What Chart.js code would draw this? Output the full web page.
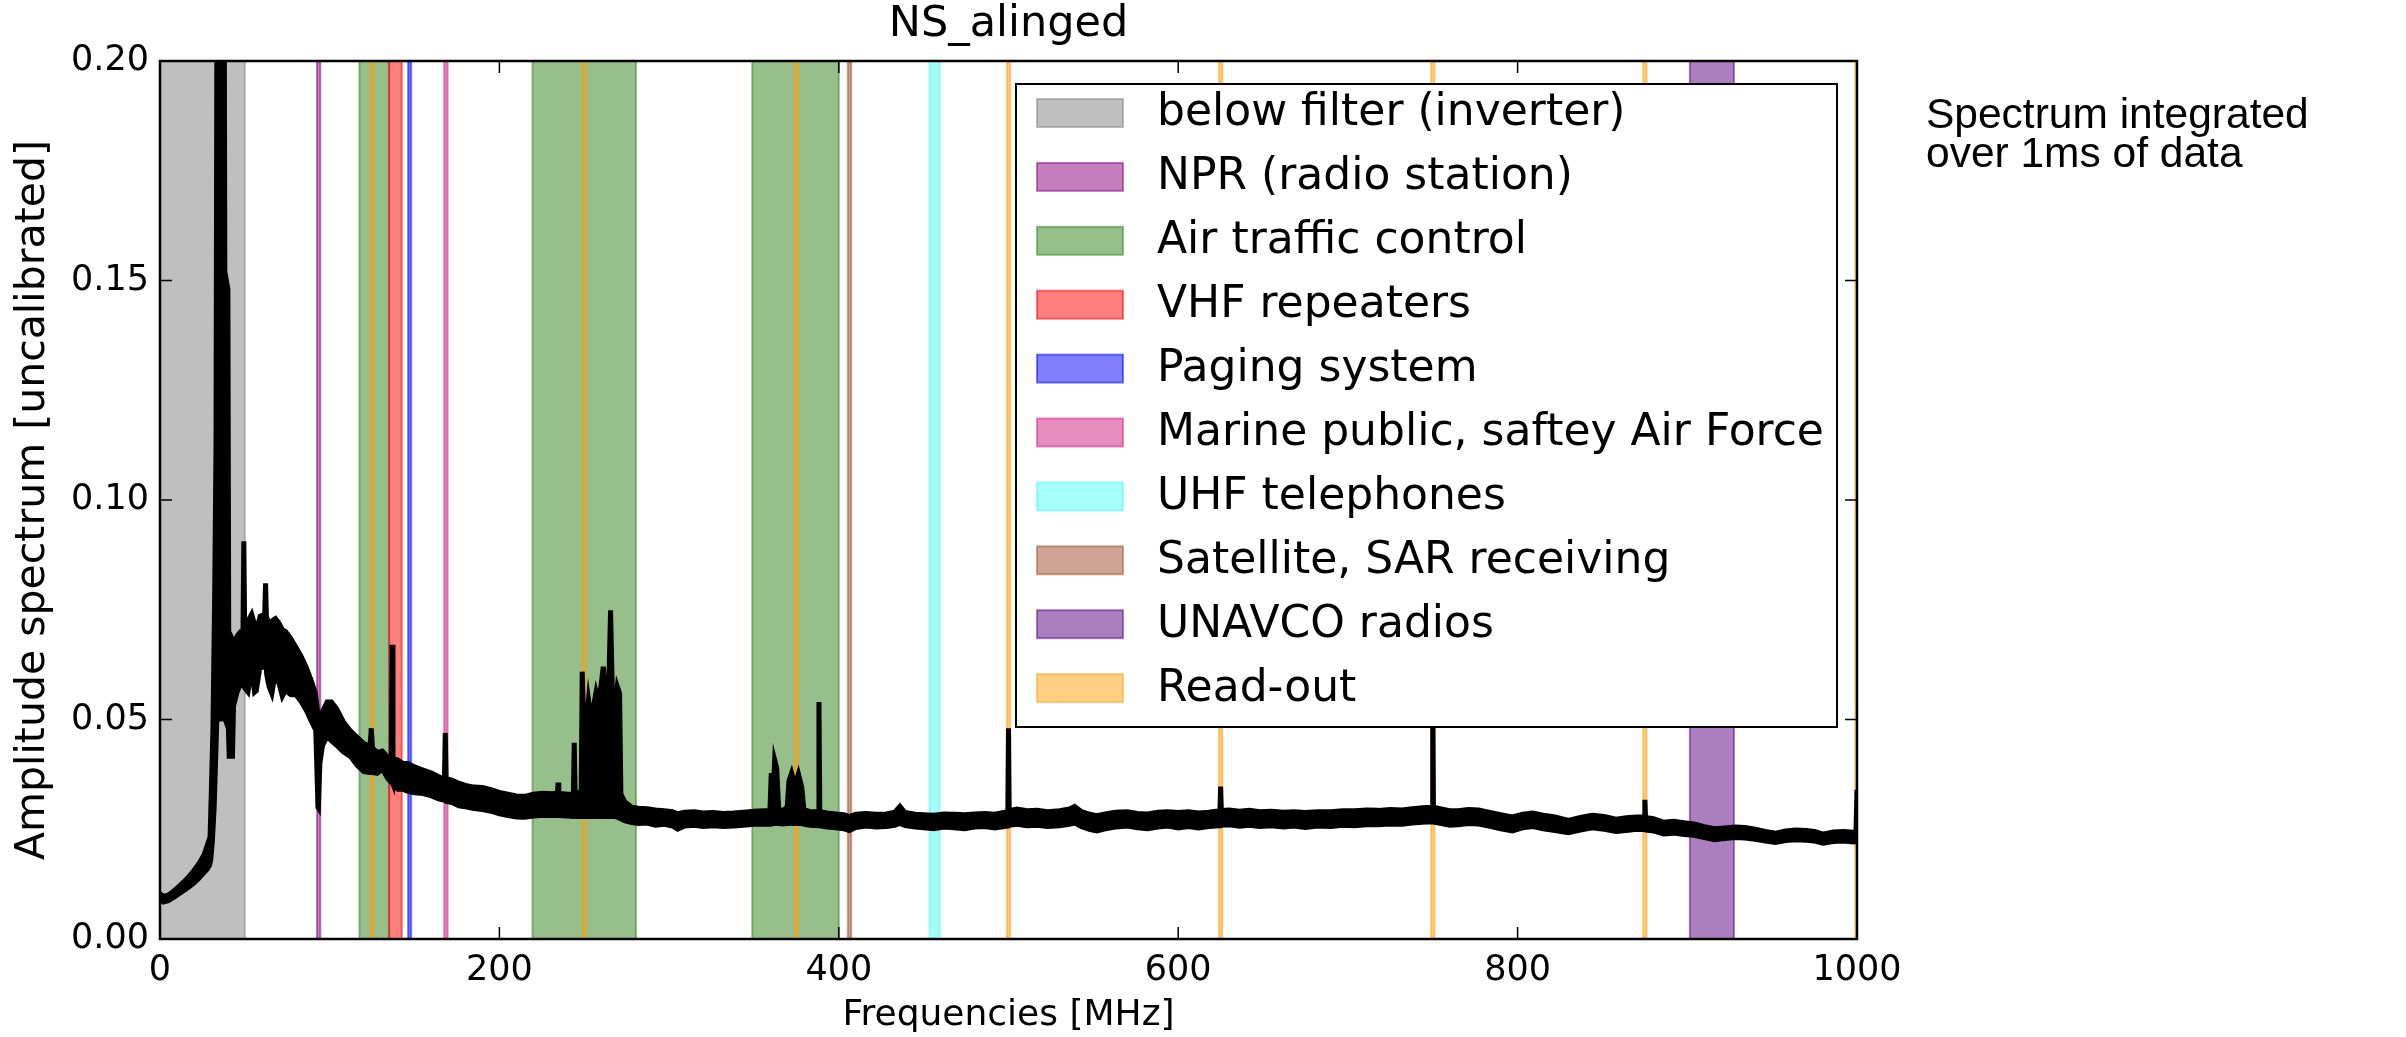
<!DOCTYPE html>
<html lang="en">
<head>
    <meta charset="UTF-8">
    <title>NS_alinged spectrum</title>
    <script src="https://cdn.jsdelivr.net/npm/chart.js"></script>
    <style>
        body { margin: 0; background: #fff; }
        #wrap { position: relative; width: 2406px; height: 1037px; }
        #note {
            position: absolute; left: 1926px; top: 94px;
            font-family: "Liberation Sans", Arial, sans-serif;
            font-size: 42.5px; line-height: 39px; color: #000;
        }
    </style>
</head>
<body>
<div id="wrap">
    <canvas id="spectrum" width="2406" height="1037"></canvas>
    <div id="note">Spectrum integrated<br>over 1ms of data</div>
</div>

<script>
// Frequency grid (MHz) with the lower / upper edge of the noisy amplitude trace
const freqMHz = [
    0, 2, 5, 8, 11, 14, 17, 20, 23, 26, 28, 29.5, 30.2, 31.2, 32.2, 33.0, 33.8, 37.6, 38.2, 40.0,
    40.5, 43.0, 43.6, 45.5, 47.5, 48.9, 49.4, 49.9, 52, 54, 55.5, 57, 59, 61.7, 62.2, 62.7,
    64, 66, 68, 70, 72, 74, 77, 80, 83, 86, 89, 91.5, 92.8, 93.6, 94.5, 96, 98.5, 101,
    104, 108, 112, 116, 120, 123.8, 124.5, 125.2, 128, 131, 134, 136.3, 136.8, 137.3, 140, 143,
    146, 150, 155, 160, 164, 167.6, 168.1, 168.6, 172, 176, 180, 185, 190, 195, 200, 205,
    210, 215, 220, 226, 231, 234.2, 234.6, 235.0, 240, 243.6, 244.1, 244.6, 248.2, 248.8, 249.6, 251,
    252.5, 254, 255.5, 257, 258.5, 260, 261.2, 262.5, 264.5, 265.5, 266.5, 268, 269.5, 270.8, 271.6, 274,
    278, 282, 287, 292, 297, 302, 305, 309, 315, 320, 326, 332, 338, 344, 350, 356,
    359.4, 360.2, 361.2, 362.2, 363.4, 364.6, 367, 369.6, 370.6, 372.2, 374.2, 376.2, 378.2, 379.4, 383, 387.9,
    388.3, 388.8, 393, 398, 403, 406.3, 410, 416, 422, 428, 433, 436, 439, 445, 450, 456,
    462, 468, 474, 480, 486, 492, 499.6, 500, 500.4, 505, 511, 517, 523, 530, 536, 539,
    543, 548, 552, 557, 563, 570, 576, 582, 588, 594, 600, 606, 612, 618, 624.6, 625,
    625.4, 630, 636, 642, 648, 655, 662, 668, 675, 682, 690, 697, 704, 711, 718, 725,
    732, 738, 744, 749.6, 750, 750.4, 755, 760, 765, 771, 777, 783, 790, 797, 803, 809,
    815, 822, 830, 837, 844, 851, 858, 864, 870, 874.6, 875, 875.4, 880, 886, 892, 898,
    904, 910, 916, 922, 928, 934, 940, 946, 952, 958, 964, 970, 975, 980, 986, 992,
    998, 999.4, 1000
];
const ampLow = [
    0.0088, 0.0083, 0.0086, 0.0093, 0.0101, 0.0109, 0.0117, 0.0126, 0.0137, 0.0150, 0.0158, 0.0168, 0.0180, 0.0225, 0.0300, 0.0400, 0.0500, 0.0500, 0.0500, 0.0480,
    0.0415, 0.0415, 0.0530, 0.0560, 0.0580, 0.0575, 0.0575, 0.0570, 0.0560, 0.0610, 0.0560, 0.0565, 0.0615, 0.0620, 0.0620, 0.0600,
    0.0575, 0.0555, 0.0600, 0.0580, 0.0550, 0.0565, 0.0555, 0.0555, 0.0540, 0.0520, 0.0495, 0.0475, 0.0300, 0.0295, 0.0400, 0.0440, 0.0460, 0.0450,
    0.0440, 0.0425, 0.0415, 0.0395, 0.0380, 0.0378, 0.0378, 0.0378, 0.0376, 0.0385, 0.0365, 0.0355, 0.0355, 0.0350, 0.0340, 0.0340,
    0.0335, 0.0332, 0.0330, 0.0325, 0.0318, 0.0315, 0.0315, 0.0312, 0.0310, 0.0302, 0.0300, 0.0296, 0.0294, 0.0290, 0.0284, 0.0280,
    0.0277, 0.0276, 0.0279, 0.0281, 0.0280, 0.0280, 0.0280, 0.0280, 0.0279, 0.0278, 0.0278, 0.0278, 0.0278, 0.0278, 0.0278, 0.0278,
    0.0278, 0.0278, 0.0278, 0.0278, 0.0278, 0.0278, 0.0278, 0.0278, 0.0278, 0.0278, 0.0278, 0.0278, 0.0276, 0.0274, 0.0272, 0.0268,
    0.0264, 0.0262, 0.0263, 0.0258, 0.0260, 0.0256, 0.0249, 0.0256, 0.0258, 0.0255, 0.0257, 0.0255, 0.0256, 0.0258, 0.0260, 0.0261,
    0.0260, 0.0260, 0.0262, 0.0262, 0.0262, 0.0262, 0.0261, 0.0262, 0.0262, 0.0262, 0.0262, 0.0262, 0.0262, 0.0260, 0.0258, 0.0257,
    0.0257, 0.0257, 0.0254, 0.0252, 0.0250, 0.0246, 0.0253, 0.0256, 0.0254, 0.0255, 0.0258, 0.0262, 0.0257, 0.0254, 0.0252, 0.0250,
    0.0254, 0.0252, 0.0250, 0.0254, 0.0255, 0.0252, 0.0256, 0.0256, 0.0258, 0.0260, 0.0257, 0.0258, 0.0255, 0.0257, 0.0260, 0.0263,
    0.0255, 0.0248, 0.0245, 0.0250, 0.0254, 0.0256, 0.0252, 0.0250, 0.0254, 0.0256, 0.0252, 0.0255, 0.0252, 0.0255, 0.0257, 0.0257,
    0.0258, 0.0259, 0.0256, 0.0258, 0.0255, 0.0257, 0.0254, 0.0256, 0.0253, 0.0256, 0.0255, 0.0258, 0.0257, 0.0259, 0.0259, 0.0261,
    0.0260, 0.0263, 0.0265, 0.0266, 0.0266, 0.0265, 0.0262, 0.0258, 0.0259, 0.0262, 0.0261, 0.0256, 0.0250, 0.0245, 0.0252, 0.0255,
    0.0250, 0.0246, 0.0241, 0.0247, 0.0252, 0.0249, 0.0244, 0.0246, 0.0249, 0.0248, 0.0248, 0.0247, 0.0245, 0.0238, 0.0240, 0.0237,
    0.0235, 0.0230, 0.0225, 0.0228, 0.0230, 0.0229, 0.0226, 0.0222, 0.0219, 0.0223, 0.0225, 0.0224, 0.0222, 0.0217, 0.0221, 0.0222,
    0.0220, 0.0221, 0.0221
];
const ampHigh = [
    0.0103, 0.0097, 0.0100, 0.0109, 0.0119, 0.0130, 0.0142, 0.0156, 0.0172, 0.0192, 0.0215, 0.0232, 0.0330, 0.0480, 0.0780, 0.1120, 0.2600, 0.2600, 0.1520, 0.1480,
    0.0700, 0.0680, 0.0670, 0.0690, 0.0700, 0.0700, 0.0906, 0.0705, 0.0725, 0.0740, 0.0720, 0.0705, 0.0735, 0.0740, 0.0810, 0.0735,
    0.0720, 0.0725, 0.0730, 0.0720, 0.0705, 0.0700, 0.0685, 0.0665, 0.0645, 0.0620, 0.0590, 0.0560, 0.0520, 0.0505, 0.0500, 0.0520, 0.0540, 0.0540,
    0.0525, 0.0495, 0.0475, 0.0460, 0.0445, 0.0440, 0.0480, 0.0435, 0.0425, 0.0428, 0.0415, 0.0410, 0.0670, 0.0410, 0.0408, 0.0400,
    0.0400, 0.0392, 0.0385, 0.0378, 0.0370, 0.0365, 0.0469, 0.0365, 0.0362, 0.0355, 0.0350, 0.0346, 0.0345, 0.0340, 0.0334, 0.0330,
    0.0326, 0.0325, 0.0330, 0.0332, 0.0331, 0.0332, 0.0356, 0.0332, 0.0330, 0.0330, 0.0447, 0.0332, 0.0335, 0.0609, 0.0500, 0.0480,
    0.0544, 0.0500, 0.0530, 0.0563, 0.0540, 0.0580, 0.0620, 0.0560, 0.0580, 0.0749, 0.0570, 0.0520, 0.0575, 0.0560, 0.0330, 0.0312,
    0.0300, 0.0298, 0.0297, 0.0294, 0.0292, 0.0290, 0.0285, 0.0289, 0.0290, 0.0287, 0.0288, 0.0286, 0.0287, 0.0289, 0.0291, 0.0292,
    0.0292, 0.0378, 0.0320, 0.0408, 0.0390, 0.0296, 0.0292, 0.0300, 0.0360, 0.0378, 0.0350, 0.0376, 0.0345, 0.0295, 0.0290, 0.0290,
    0.0540, 0.0290, 0.0287, 0.0285, 0.0283, 0.0279, 0.0284, 0.0286, 0.0284, 0.0285, 0.0289, 0.0302, 0.0288, 0.0284, 0.0283, 0.0282,
    0.0285, 0.0284, 0.0283, 0.0285, 0.0286, 0.0284, 0.0290, 0.0480, 0.0292, 0.0296, 0.0292, 0.0293, 0.0290, 0.0292, 0.0296, 0.0302,
    0.0290, 0.0284, 0.0281, 0.0285, 0.0289, 0.0290, 0.0286, 0.0285, 0.0289, 0.0290, 0.0288, 0.0290, 0.0287, 0.0289, 0.0292, 0.0347,
    0.0293, 0.0294, 0.0291, 0.0293, 0.0290, 0.0291, 0.0289, 0.0290, 0.0288, 0.0290, 0.0290, 0.0292, 0.0292, 0.0294, 0.0293, 0.0295,
    0.0294, 0.0297, 0.0299, 0.0300, 0.0590, 0.0300, 0.0296, 0.0292, 0.0292, 0.0295, 0.0294, 0.0289, 0.0283, 0.0278, 0.0284, 0.0287,
    0.0282, 0.0278, 0.0270, 0.0277, 0.0282, 0.0279, 0.0273, 0.0276, 0.0278, 0.0278, 0.0317, 0.0277, 0.0274, 0.0266, 0.0268, 0.0265,
    0.0262, 0.0256, 0.0251, 0.0253, 0.0255, 0.0254, 0.0250, 0.0245, 0.0241, 0.0246, 0.0248, 0.0247, 0.0245, 0.0239, 0.0244, 0.0245,
    0.0243, 0.0244, 0.0340
];

// Frequency allocations shaded behind the trace (MHz ranges)
const bandLabels = [
    'below filter (inverter)', 'NPR (radio station)', 'Air traffic control', 'VHF repeaters',
    'Paging system', 'Marine public, saftey Air Force', 'UHF telephones',
    'Satellite, SAR receiving', 'UNAVCO radios', 'Read-out'
];
const bandColors = [
    'rgba(128,128,128,0.5)', 'rgba(140,0,125,0.5)', 'rgba(48,128,24,0.5)', 'rgba(255,0,0,0.5)',
    'rgba(0,0,255,0.5)', 'rgba(208,26,128,0.5)', 'rgba(0,255,240,0.35)',
    'rgba(160,75,45,0.5)', 'rgba(88,0,128,0.5)', 'rgba(255,160,10,0.5)'
];
const bandRanges = [
    [[0, 50]],
    [[92.5, 94.5]],
    [[117.5, 135], [219.5, 280.5], [349, 400]],
    [[135, 142.5]],
    [[146.2, 148]],
    [[167.5, 169.5]],
    [[453.5, 459.5]],
    [[405.3, 407.3]],
    [[901.5, 927.5]],
    [[124, 126], [249, 251], [374, 376], [499, 501], [624, 626], [749, 751], [874, 876], [999, 1001]]
];

const xTicks = [0, 200, 400, 600, 800, 1000];
const yTicks = [0, 0.05, 0.10, 0.15, 0.20];

const FONT = 'DejaVu Sans';
Chart.defaults.font.family = FONT;

const lowPts = freqMHz.map((f, i) => ({ x: f, y: ampLow[i] }));
const highPts = freqMHz.map((f, i) => ({ x: f, y: ampHigh[i] }));

// shaded spans, drawn under the trace
const bandsPlugin = {
    id: 'bands',
    beforeDatasetsDraw(chart) {
        const { ctx, chartArea: a, scales: { x } } = chart;
        ctx.save();
        ctx.beginPath();
        ctx.rect(a.left, a.top, a.width, a.height);
        ctx.clip();
        ctx.lineWidth = 2;
        bandRanges.forEach((spans, k) => {
            ctx.fillStyle = bandColors[k];
            ctx.strokeStyle = bandColors[k];
            spans.forEach(([lo, hi]) => {
                const x0 = x.getPixelForValue(lo);
                const x1 = x.getPixelForValue(hi);
                ctx.fillRect(x0, a.top, x1 - x0, a.height);
                ctx.strokeRect(x0, a.top, x1 - x0, a.height);
            });
        });
        ctx.restore();
    }
};

// axes box, inward ticks, title and the legend box
const framePlugin = {
    id: 'frame',
    afterDraw(chart) {
        const { ctx, chartArea: a, scales: { x, y } } = chart;
        ctx.save();
        ctx.strokeStyle = '#000';
        ctx.lineWidth = 1.5;
        ctx.beginPath();
        xTicks.forEach(v => {
            const px = x.getPixelForValue(v);
            ctx.moveTo(px, a.bottom); ctx.lineTo(px, a.bottom - 12);
            ctx.moveTo(px, a.top); ctx.lineTo(px, a.top + 12);
        });
        yTicks.forEach(v => {
            const py = y.getPixelForValue(v);
            ctx.moveTo(a.left, py); ctx.lineTo(a.left + 12, py);
            ctx.moveTo(a.right, py); ctx.lineTo(a.right - 12, py);
        });
        ctx.stroke();
        ctx.lineWidth = 2.5;
        ctx.strokeRect(a.left, a.top, a.width, a.height);

        ctx.fillStyle = '#000';
        ctx.font = '43px "' + FONT + '"';
        ctx.textAlign = 'center';
        ctx.textBaseline = 'alphabetic';
        ctx.fillText('NS_alinged', (a.left + a.right) / 2, 36);

        // legend
        const lx = 1016, ly = 84, lw = 821, lh = 643;
        ctx.fillStyle = '#fff';
        ctx.fillRect(lx, ly, lw, lh);
        ctx.lineWidth = 2;
        ctx.strokeStyle = '#000';
        ctx.strokeRect(lx, ly, lw, lh);
        ctx.font = '44px "' + FONT + '"';
        ctx.textAlign = 'left';
        ctx.textBaseline = 'middle';
        bandLabels.forEach((label, k) => {
            const cy = ly + 29 + k * 63.9;
            ctx.fillStyle = bandColors[k];
            ctx.strokeStyle = bandColors[k];
            ctx.fillRect(1037, cy - 14, 86, 28);
            ctx.strokeRect(1037, cy - 14, 86, 28);
            ctx.fillStyle = '#000';
            ctx.fillText(label, 1157, cy + 1);
        });
        ctx.restore();
    }
};

new Chart(document.getElementById('spectrum'), {
    type: 'line',
    data: {
        datasets: [
            {
                label: 'low',
                data: lowPts,
                borderColor: '#000',
                borderWidth: 4,
                pointRadius: 0,
                tension: 0,
                fill: false
            },
            {
                label: 'high',
                data: highPts,
                borderColor: '#000',
                backgroundColor: '#000',
                borderWidth: 5,
                pointRadius: 0,
                tension: 0,
                fill: '-1'
            }
        ]
    },
    options: {
        responsive: false,
        animation: false,
        devicePixelRatio: 1,
        layout: { padding: { left: 0, top: 61, right: 549, bottom: 0 } },
        scales: {
            x: {
                type: 'linear',
                min: 0,
                max: 1000,
                afterFit: s => { s.height = 98; },
                afterBuildTicks: s => { s.ticks = xTicks.map(v => ({ value: v })); },
                grid: { display: false, drawTicks: false },
                border: { display: false },
                ticks: { padding: 11, color: '#000', font: { size: 35 }, maxRotation: 0, callback: v => String(v) },
                title: {
                    display: true,
                    text: 'Frequencies [MHz]',
                    color: '#000',
                    font: { size: 36 },
                    padding: { top: 0, bottom: 0 }
                }
            },
            y: {
                min: 0,
                max: 0.2,
                afterFit: s => { s.width = 160; },
                afterBuildTicks: s => { s.ticks = yTicks.map(v => ({ value: v })); },
                grid: { display: false, drawTicks: false },
                border: { display: false },
                ticks: {
                    padding: 11,
                    color: '#000',
                    font: { size: 35 },
                    callback: v => v.toFixed(2)
                },
                title: {
                    display: true,
                    text: 'Amplitude spectrum [uncalibrated]',
                    color: '#000',
                    font: { size: 41 },
                    padding: { top: 9, bottom: 0 }
                }
            }
        },
        plugins: {
            legend: { display: false },
            tooltip: { enabled: false }
        }
    },
    plugins: [bandsPlugin, framePlugin]
});
</script>
</body>
</html>
